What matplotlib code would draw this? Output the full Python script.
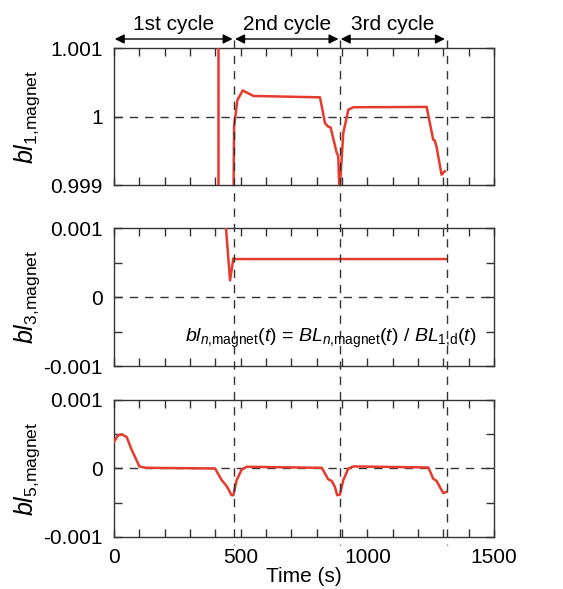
import matplotlib
matplotlib.use('Agg')
import matplotlib.pyplot as plt
from matplotlib.transforms import blended_transform_factory
from matplotlib.ticker import MultipleLocator

plt.rcParams['font.family'] = 'Liberation Sans'
plt.rcParams['mathtext.fontset'] = 'custom'
plt.rcParams['mathtext.rm'] = 'Liberation Sans'
plt.rcParams['mathtext.it'] = 'Liberation Sans:italic'
plt.rcParams['mathtext.bf'] = 'Liberation Sans:bold'

# Datos
t1 = [412, 412, None, 471, 474, 487, 508, 550, 813, 833, 846, 855, 879, 885, 889,
      892, 905, 925, 945, 1234, 1260, 1266, 1273, 1293, 1300, 1306]
bl1 = [1.0015, 0.9985, None, 0.9985, 0.99985, 1.00024, 1.00038, 1.0003, 1.00028, 0.9999,
       0.99985, 0.99984, 0.99947, 0.99942, 0.9990,
       0.9990, 0.99976, 1.0001, 1.000135, 1.00014, 0.99966, 0.99965, 0.99956, 0.99915,
       0.99918, 0.9992]

t3 = [436, 442, 458, 471, 480, 700, 1000, 1313]
bl3 = [0.0013, 0.001, 0.00024, 0.00056, 0.00055, 0.00055, 0.00055, 0.00055]

t5 = [0, 15, 30, 50, 70, 89, 100, 126, 399, 425, 432, 445, 464, 471, 484, 504, 524,
      820, 846, 859, 872, 881, 892, 905, 925, 945, 1241, 1260, 1273, 1289, 1300, 1313]
bl5 = [0.00039, 0.00048, 0.0005, 0.00046, 0.00027, 0.00012, 0.00003, 0.00001, 0.0,
       -0.00017, -0.0002, -0.00026, -0.00039, -0.00039, -0.00017, -0.000015, 0.000025,
       0.00001, -0.00016, -0.00018, -0.00027, -0.00039, -0.00038, -0.00017, 0.0,
       0.00003, 0.000015, -0.00015, -0.00018, -0.00029, -0.00036, -0.00034]

cycle_ends = [475, 893, 1313]
arrows = [(3, 468, '1st cycle'), (478, 886, '2nd cycle'), (895, 1306, '3rd cycle')]

def split(t, y):
    segs, xs, ys = [], [], []
    for a, b in zip(t, y):
        if a is None:
            segs.append((xs, ys)); xs, ys = [], []
        else:
            xs.append(a); ys.append(b)
    segs.append((xs, ys))
    return segs

red = '#e53a2c'
fig = plt.figure(figsize=(5.63, 5.89), dpi=100)
L, W = 0.2025, 0.675
ax1 = fig.add_axes([L, 0.6859, W, 0.2326])
ax2 = fig.add_axes([L, 0.3786, W, 0.2343])
ax3 = fig.add_axes([L, 0.0883, W, 0.2326])

panels = [
    (ax1, split(t1, bl1), (0.999, 1.001), 1.0, [0.999, 1.0, 1.001], ['0.999', '1', '1.001'], '1'),
    (ax2, split(t3, bl3), (-0.001, 0.001), 0.0, [-0.001, 0, 0.001], ['-0.001', '0', '0.001'], '3'),
    (ax3, split(t5, bl5), (-0.001, 0.001), 0.0, [-0.001, 0, 0.001], ['-0.001', '0', '0.001'], '5'),
]

for ax, segs, ylim, ref, yt, ytl, n in panels:
    for xs, ys in segs:
        ax.plot(xs, ys, color=red, lw=1.8, zorder=3)
    ax.axhline(ref, color='#333333', lw=1, ls=(0, (6, 5)), zorder=2)
    ax.set_xlim(0, 1500)
    ax.set_ylim(*ylim)
    ax.set_yticks(yt, ytl)
    if n != '1':
        ax.yaxis.set_minor_locator(MultipleLocator(0.0005))
    ax.xaxis.set_major_locator(MultipleLocator(500))
    ax.xaxis.set_minor_locator(MultipleLocator(100))
    ax.tick_params(which='both', direction='in', top=True, right=True, labelsize=15,
                   color='#333333', width=1)
    ax.tick_params(which='major', length=6, pad=8)
    ax.tick_params(which='minor', length=6)
    for s in ax.spines.values():
        s.set_color('#333333')
        s.set_linewidth(1)
    ax.set_ylabel(r'$bl_{%s{,}\mathrm{magnet}}$' % n, fontsize=18)
    ax.yaxis.set_label_coords(-0.19, 0.5)
    if ax is not ax3:
        ax.tick_params(labelbottom=False)

ax3.set_xticks([0, 500, 1000, 1500], ['0', '500', '1000', '1500'])
ax3.set_xlabel('Time (s)', fontsize=15, labelpad=0)

ax2.text(0.955, 0.2,
         r'$bl_{n{,}\mathrm{magnet}}(t)$ = $BL_{n{,}\mathrm{magnet}}(t)$ / $BL_{1{,}\mathrm{d}}(t)$',
         transform=ax2.transAxes, ha='right', va='center', fontsize=14, zorder=4)

# lineas verticales de fin de ciclo a lo largo de toda la figura
tr = blended_transform_factory(ax1.transData, fig.transFigure)
for x in cycle_ends:
    fig.add_artist(plt.Line2D([x, x], [1 - 40 / 589, 1 - 545 / 589], transform=tr,
                              color='#333333', lw=1, ls=(0, (6, 5))))

for x0, x1, lab in arrows:
    ax1.annotate('', xy=(x1, 1 - 39 / 589), xytext=(x0, 1 - 39 / 589),
                 xycoords=tr, textcoords=tr,
                 arrowprops=dict(arrowstyle='<|-|>', color='black', lw=1,
                                 shrinkA=0, shrinkB=0, mutation_scale=14))
    fig.text(tr.transform((0.5 * (x0 + x1), 0))[0] / fig.bbox.width, 1 - 25 / 589, lab,
             ha='center', va='center', fontsize=15)

fig.savefig('out.png', dpi=100)
